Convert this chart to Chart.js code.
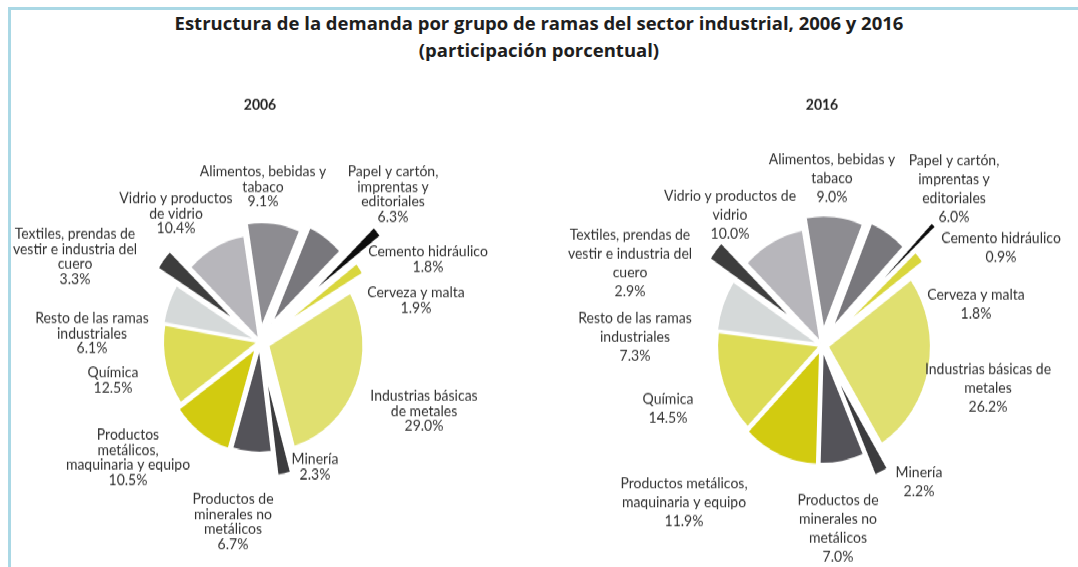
<!DOCTYPE html>
<html lang="es">
<head>
<meta charset="utf-8">
<script src="https://cdn.jsdelivr.net/npm/chart.js@4.4.0/dist/chart.umd.min.js"></script>
<style>
  html, body { margin: 0; padding: 0; background: #fff; }
  body { width: 1078px; height: 567px; overflow: hidden; position: relative; }
  .frame {
    position: absolute; left: 8px; top: 7px; right: 0; bottom: 0;
    border-left: 3px solid #aad8e5; border-top: 3px solid #aad8e5;
  }
  .title {
    position: absolute; left: 0; width: 1078px; text-align: center;
    font-family: "Open Sans", sans-serif; font-weight: bold; font-size: 18.5px;
    line-height: 22px; color: #1e1e1e;
  }
  /* the pies are drawn a bit taller than wide */
  .page {
    position: absolute; left: 0; top: 0; width: 1078px; height: 511px;
    transform: scaleY(1.11); transform-origin: 0 0;
  }
  .panel { position: absolute; top: 0; }
</style>
</head>
<body>
<div class="frame"></div>
<div class="title" style="top:12px">Estructura de la demanda por grupo de ramas del sector industrial, 2006 y 2016</div>
<div class="title" style="top:39px">(participación porcentual)</div>
<div class="page">
  <canvas id="pie2006" class="panel" style="left:0" width="539" height="511"></canvas>
  <canvas id="pie2016" class="panel" style="left:539px" width="539" height="511"></canvas>
</div>
<script>
// Branch groups, clockwise from the top
const categories = [
  'Alimentos, bebidas y tabaco',
  'Papel y cartón, imprentas y editoriales',
  'Cemento hidráulico',
  'Cerveza y malta',
  'Industrias básicas de metales',
  'Minería',
  'Productos de minerales no metálicos',
  'Productos metálicos, maquinaria y equipo',
  'Química',
  'Resto de las ramas industriales',
  'Textiles, prendas de vestir e industria del cuero',
  'Vidrio y productos de vidrio'
];

// Percentage share of demand
const shares2006 = [9.1, 6.3, 1.8, 1.9, 29.0, 2.3, 6.7, 10.5, 12.5, 6.1, 3.3, 10.4];
const shares2016 = [9.0, 6.0, 0.9, 1.8, 26.2, 2.2, 7.0, 11.9, 14.5, 7.3, 2.9, 10.0];

// Wrapped label text for each panel (the share is added below)
const lines2006 = [
  ['Alimentos, bebidas y', 'tabaco'],
  ['Papel y cartón,', 'imprentas y', 'editoriales'],
  ['Cemento hidráulico'],
  ['Cerveza y malta'],
  ['Industrias básicas', 'de metales'],
  ['Minería'],
  ['Productos de', 'minerales no', 'metálicos'],
  ['Productos', 'metálicos,', 'maquinaria y equipo'],
  ['Química'],
  ['Resto de las ramas', 'industriales'],
  ['Textiles, prendas de', 'vestir e industria del', 'cuero'],
  ['Vidrio y productos', 'de vidrio']
];
const lines2016 = [
  ['Alimentos, bebidas y', 'tabaco'],
  ['Papel y cartón,', 'imprentas y', 'editoriales'],
  ['Cemento hidráulico'],
  ['Cerveza y malta'],
  ['Industrias básicas de', 'metales'],
  ['Minería'],
  ['Productos de', 'minerales no', 'metálicos'],
  ['Productos metálicos,', 'maquinaria y equipo'],
  ['Química'],
  ['Resto de las ramas', 'industriales'],
  ['Textiles, prendas de', 'vestir e industria del', 'cuero'],
  ['Vidrio y productos de', 'vidrio']
];

const sliceColors = ['#8d8c91', '#78777c', '#0d0d0d', '#d9d63c', '#e0e070', '#3c3c3e',
                     '#545359', '#d2cb10', '#dddc56', '#d5d9d9', '#3d3d3d', '#b7b6bb'];

// How far each slice is pulled out of the pie, in px
const explode2006 = [13, 20, 59, 25, 9, 27, 5, 7, 2, 3, 27, 2];
const explode2016 = [14, 18, 53, 23, 6, 26, 4, 5, 2, 3, 34, 3];

// Label anchor (first line) relative to the pie centre
const labelPos2006 = [[3, -153], [133, -153], [168, -81], [156, -44], [164, 49], [55, 106],
                      [-27, 142], [-132, 84], [-147, 28], [-168, -21], [-185, -97], [-84, -129]];
const labelPos2016 = [[10, -168], [132, -167], [179, -97], [154, -46], [166, 21], [97, 114],
                      [16, 139], [-138, 124], [-154, 48], [-187, -25], [-192, -100], [-92, -135]];

function pieCentre(chart) {
  const a = chart.chartArea;
  return { x: (a.left + a.right) / 2, y: (a.top + a.bottom) / 2 };
}

// Move every arc out along its mid angle, keeping its radius
const explodeSlices = {
  id: 'explodeSlices',
  beforeDatasetDraw(chart, args, opts) {
    const c = pieCentre(chart);
    args.meta.data.forEach((arc, i) => {
      const mid = (arc.startAngle + arc.endAngle) / 2;
      arc.x = c.x + Math.cos(mid) * opts.distance[i];
      arc.y = c.y + Math.sin(mid) * opts.distance[i];
    });
  }
};

const sliceLabels = {
  id: 'sliceLabels',
  afterDatasetsDraw(chart, args, opts) {
    const c = pieCentre(chart);
    const values = chart.data.datasets[0].data;
    const ctx = chart.ctx;
    ctx.save();
    ctx.font = '14px Lato';
    ctx.fillStyle = '#333333';
    ctx.textAlign = 'center';
    ctx.textBaseline = 'middle';
    opts.lines.forEach((lines, i) => {
      const [dx, dy] = opts.positions[i];
      const text = lines.concat(values[i].toFixed(1) + '%');
      text.forEach((t, k) => ctx.fillText(t, c.x + dx, c.y + dy + k * opts.lineHeight));
    });
    ctx.restore();
  }
};

function makePie(id, year, values, explode, lines, positions, radius, rotation, lineHeight, padding, titleGap) {
  return new Chart(document.getElementById(id), {
    type: 'pie',
    data: {
      labels: categories,
      datasets: [{
        data: values,
        backgroundColor: sliceColors,
        borderColor: '#ffffff',
        borderWidth: 2
      }]
    },
    options: {
      responsive: false,
      animation: false,
      events: [],
      radius: radius,
      rotation: rotation,
      layout: { padding: padding },
      plugins: {
        legend: { display: false },
        tooltip: { enabled: false },
        title: {
          display: true,
          text: year,
          color: '#222222',
          font: { family: 'Lato', size: 14, weight: 'bold' },
          padding: { top: 86, bottom: titleGap }
        },
        explodeSlices: { distance: explode },
        sliceLabels: { lines: lines, positions: positions, lineHeight: lineHeight }
      }
    },
    plugins: [explodeSlices, sliceLabels]
  });
}

makePie('pie2006', '2006', shares2006, explode2006, lines2006, labelPos2006,
        95, -9, 13.5, { left: 0, right: 19 }, 2);
makePie('pie2016', '2016', shares2016, explode2016, lines2016, labelPos2016,
        103, -10, 17, { left: 27, right: 0 }, 8.4);
</script>
</body>
</html>
